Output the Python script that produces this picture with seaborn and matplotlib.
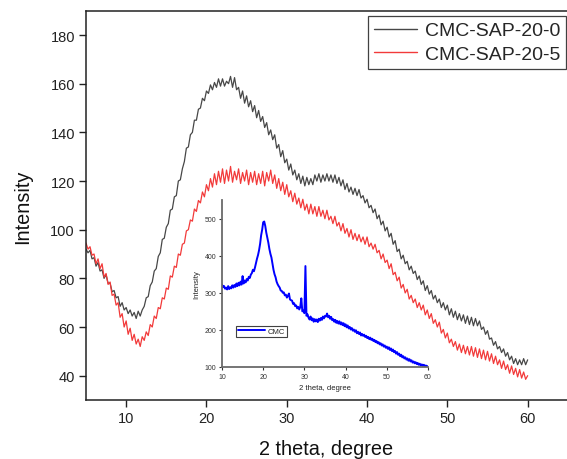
import numpy as np
import pandas as pd
import matplotlib
matplotlib.use("Agg")
import matplotlib.pyplot as plt
import seaborn as sns

# ---------------- data ----------------
theta_start, theta_end, theta_step = 5.0, 60.0, 0.25
sap_20_0 = [
    92, 90.5, 91.5, 88, 88.5, 85, 86.5, 83, 83.5, 80, 81.5, 78, 78, 74.5, 75, 72,
    72.5, 68.5, 70, 67, 68, 65.5, 67, 64.5, 66, 63.5, 66.5, 64.5, 67, 68.5, 72, 72.5,
    77, 78.5, 83, 84, 89, 90.5, 96, 96.5, 101, 102.5, 108, 108.5, 113.5, 114, 120, 120.5,
    125, 128, 133.5, 134, 139, 140, 145, 145, 149.5, 150, 154, 153, 157, 156, 159.5, 157.5,
    160.5, 158.5, 162, 159, 162, 159, 161, 160, 163, 158.5, 162.5, 157.5, 158.5, 154, 157, 152,
    155, 150.5, 153, 148.5, 151, 146, 149, 144.5, 146.5, 142, 144, 139, 141, 137, 139, 133.5,
    135, 130, 132.5, 127.5, 129, 124.5, 127, 122.5, 124.5, 120.5, 123, 119, 122, 118, 121.5, 118.5,
    121, 118.5, 122.5, 120, 123, 119.5, 122.5, 120, 123, 120, 122.5, 119.5, 122.5, 119, 121.5, 118,
    120.5, 116.5, 119, 115.5, 117.5, 114.5, 117, 114, 116.5, 113, 114, 111, 112.5, 109, 110, 107,
    108.5, 104.5, 106, 102, 103.5, 99.5, 101, 97, 98.5, 94, 95.5, 91, 92, 88, 89.5, 86,
    87, 83.5, 85, 82, 83, 79.5, 81, 77.5, 79, 75, 77, 73.5, 75, 71.5, 73, 70,
    71.5, 68, 70, 67, 69, 65, 67.5, 64, 66.5, 63, 65.5, 62.5, 65, 61.5, 64.5, 61,
    64, 60.5, 63.5, 60.5, 62.5, 59, 60, 57, 58.5, 55, 55.5, 52.5, 54, 51, 52, 49.5,
    51, 48, 49.5, 46.5, 48, 45, 47, 44.5, 46.5, 44.5, 47, 44.5, 46.5,
]
sap_20_5 = [
    94.5, 92, 93, 89.5, 90, 86, 88, 84, 86, 80.5, 82, 77.5, 78.5, 73, 73.5, 69,
    70, 64, 65.5, 60, 62.5, 57, 59.5, 54.5, 57, 53, 55, 52, 56, 54.5, 58, 56.5,
    61, 60, 64.5, 63.5, 68, 67.5, 72, 71.5, 76, 75.5, 81, 80.5, 85, 84.5, 90, 89.5,
    94, 94.5, 99.5, 100, 104, 103.5, 108.5, 107.5, 112, 111, 115.5, 113.5, 118.5, 116, 121, 117.5,
    123, 118.5, 124, 119.5, 125, 119, 124.5, 120, 126, 119.5, 124, 120.5, 125, 119, 123.5, 120,
    124.5, 118.5, 123.5, 119.5, 124, 118.5, 123, 119, 124, 118, 123.5, 120, 124.5, 119, 122.5, 117,
    121, 116, 119.5, 114.5, 118.5, 113.5, 116, 111.5, 115, 110.5, 113, 109, 112.5, 108, 110.5, 106.5,
    110.5, 106.5, 109.5, 105.5, 109.5, 105.5, 108, 104.5, 108, 104, 105.5, 102.5, 105.5, 101.5, 103, 99.5,
    102.5, 98.5, 100.5, 97, 100, 96, 98.5, 95.5, 98, 95, 97, 94, 97, 93, 94.5, 92,
    94, 90.5, 91.5, 88, 90, 86.5, 87.5, 84, 86, 81.5, 82.5, 79, 80.5, 76, 77.5, 74,
    75.5, 71.5, 73, 70, 71.5, 68, 70, 67, 69, 65, 67, 63.5, 65.5, 61.5, 63, 60,
    62, 57.5, 59, 55.5, 57.5, 53.5, 55, 52, 54, 50.5, 53, 49.5, 52.5, 49, 52, 48.5,
    52, 48, 51.5, 47.5, 51, 47, 50.5, 46.5, 50, 46, 49, 45, 48, 44.5, 46.5, 43,
    46, 42.5, 44.5, 41, 44, 40.5, 43, 39.5, 42.5, 39, 41.5, 38.5, 40,
]
inset_start, inset_end = 10.0, 60.0
cmc = [
    322, 315, 318, 311, 314, 309, 318, 310, 315, 312, 320, 314, 321, 316, 325, 318,
    327, 320, 330, 322, 345, 325, 333, 328, 337, 333, 343, 340, 349, 353, 362, 358,
    368, 380, 392, 402, 415, 432, 455, 470, 490, 492, 480, 462, 448, 435, 418, 405,
    395, 378, 362, 350, 342, 330, 323, 318, 314, 306, 305, 300, 301, 293, 295, 287,
    292, 298, 282, 280, 279, 270, 272, 264, 266, 258, 262, 255, 262, 285, 250, 252,
    245, 372, 238, 242, 233, 228, 236, 226, 231, 222, 229, 223, 228, 221, 230, 225,
    232, 227, 236, 231, 238, 236, 244, 234, 238, 230, 235, 226, 229, 222, 227, 219,
    224, 217, 223, 215, 220, 213, 218, 210, 215, 207, 212, 204, 208, 201, 205, 198,
    201, 195, 199, 191, 195, 189, 193, 185, 189, 184, 187, 181, 184, 178, 181, 175,
    179, 173, 176, 170, 173, 167, 170, 164, 167, 161, 164, 158, 161, 155, 158, 152,
    155, 149, 153, 146, 150, 143, 147, 140, 143, 136, 140, 133, 136, 129, 133, 126,
    129, 123, 126, 120, 123, 117, 121, 115, 118, 112, 115, 110, 113, 108, 111, 106,
    109, 104, 107, 103, 106, 102, 104, 101, 102,
]
series_names = ["CMC-SAP-20-0", "CMC-SAP-20-5"]
inset_name = "CMC"

theta = np.arange(len(sap_20_0)) * theta_step + theta_start
theta_in = np.arange(len(cmc)) * theta_step + inset_start

df = pd.concat([
    pd.DataFrame({"theta": theta, "Intensity": sap_20_0, "sample": series_names[0]}),
    pd.DataFrame({"theta": theta, "Intensity": sap_20_5, "sample": series_names[1]}),
])
df_in = pd.DataFrame({"theta": theta_in, "Intensity": cmc, "sample": inset_name})

# ---------------- style ----------------
sns.set_theme(style="ticks")
plt.rcParams["font.family"] = ["Liberation Sans", "DejaVu Sans"]

fig = plt.figure(figsize=(5.67, 4.60), dpi=100)
ax = fig.add_axes([86 / 567, 1 - 401 / 460, 481 / 567, (401 - 11.7) / 460])

sns.lineplot(data=df, x="theta", y="Intensity", hue="sample",
             palette={series_names[0]: "#474747", series_names[1]: "#f23a3a"},
             estimator=None, linewidth=0.9, ax=ax)

ax.set_xlim(5, 64.9)
ax.set_ylim(30, 190)
ax.set_xticks([10, 20, 30, 40, 50, 60])
ax.set_yticks([40, 60, 80, 100, 120, 140, 160, 180])
ax.set_xlabel("2 theta, degree", fontsize=14.3, color="#111111", labelpad=10)
ax.set_ylabel("Intensity", fontsize=14.3, color="#111111", labelpad=13)
ax.tick_params(axis="both", direction="out", length=5, width=1, labelsize=10.5,
               colors="#222222", pad=3)
for s in ["left", "bottom", "top"]:
    ax.spines[s].set_color("#222222")
    ax.spines[s].set_linewidth(1.1)
ax.spines["right"].set_visible(False)

leg = ax.legend(loc="upper right", bbox_to_anchor=(566 / 567, 1 - 17 / 460),
                bbox_transform=fig.transFigure, borderaxespad=0, fontsize=14.0,
                frameon=True, fancybox=False, handlelength=2.2, handletextpad=0.4,
                borderpad=0.3, labelspacing=0.3, title=None)
leg.get_frame().set_edgecolor("#111111")
leg.get_frame().set_linewidth(0.9)
for line in leg.get_lines():
    line.set_linewidth(1.0)

# ---------------- inset ----------------
axi = fig.add_axes([222 / 567, 1 - 368 / 460, 206 / 567, 167 / 460])
axi.patch.set_alpha(0)
sns.lineplot(data=df_in, x="theta", y="Intensity", hue="sample",
             palette={inset_name: "#0000ff"}, estimator=None, linewidth=1.4, ax=axi)
axi.set_xlim(10, 60)
axi.set_ylim(100, 550)
axi.set_xticks([10, 20, 30, 40, 50, 60])
axi.set_yticks([100, 200, 300, 400, 500])
axi.set_xlabel("2 theta, degree", fontsize=5.5, color="#222222", labelpad=3)
axi.set_ylabel("Intensity", fontsize=5.5, color="#222222", labelpad=3)
axi.tick_params(axis="both", direction="out", length=2.5, width=0.8, labelsize=5,
                colors="#333333", pad=1.5)
for s in ["left", "bottom"]:
    axi.spines[s].set_color("#6a6a6a")
    axi.spines[s].set_linewidth(1.3)
axi.spines["top"].set_visible(False)
axi.spines["right"].set_visible(False)
legi = axi.legend(loc="lower left", bbox_to_anchor=(0.07, 0.18), borderaxespad=0,
                  fontsize=5.5, frameon=True, fancybox=False, handlelength=3.5,
                  handletextpad=0.4, borderpad=0.25, title=None)
legi.get_frame().set_edgecolor("#111111")
legi.get_frame().set_linewidth(0.8)

fig.savefig("out.png", dpi=100)
